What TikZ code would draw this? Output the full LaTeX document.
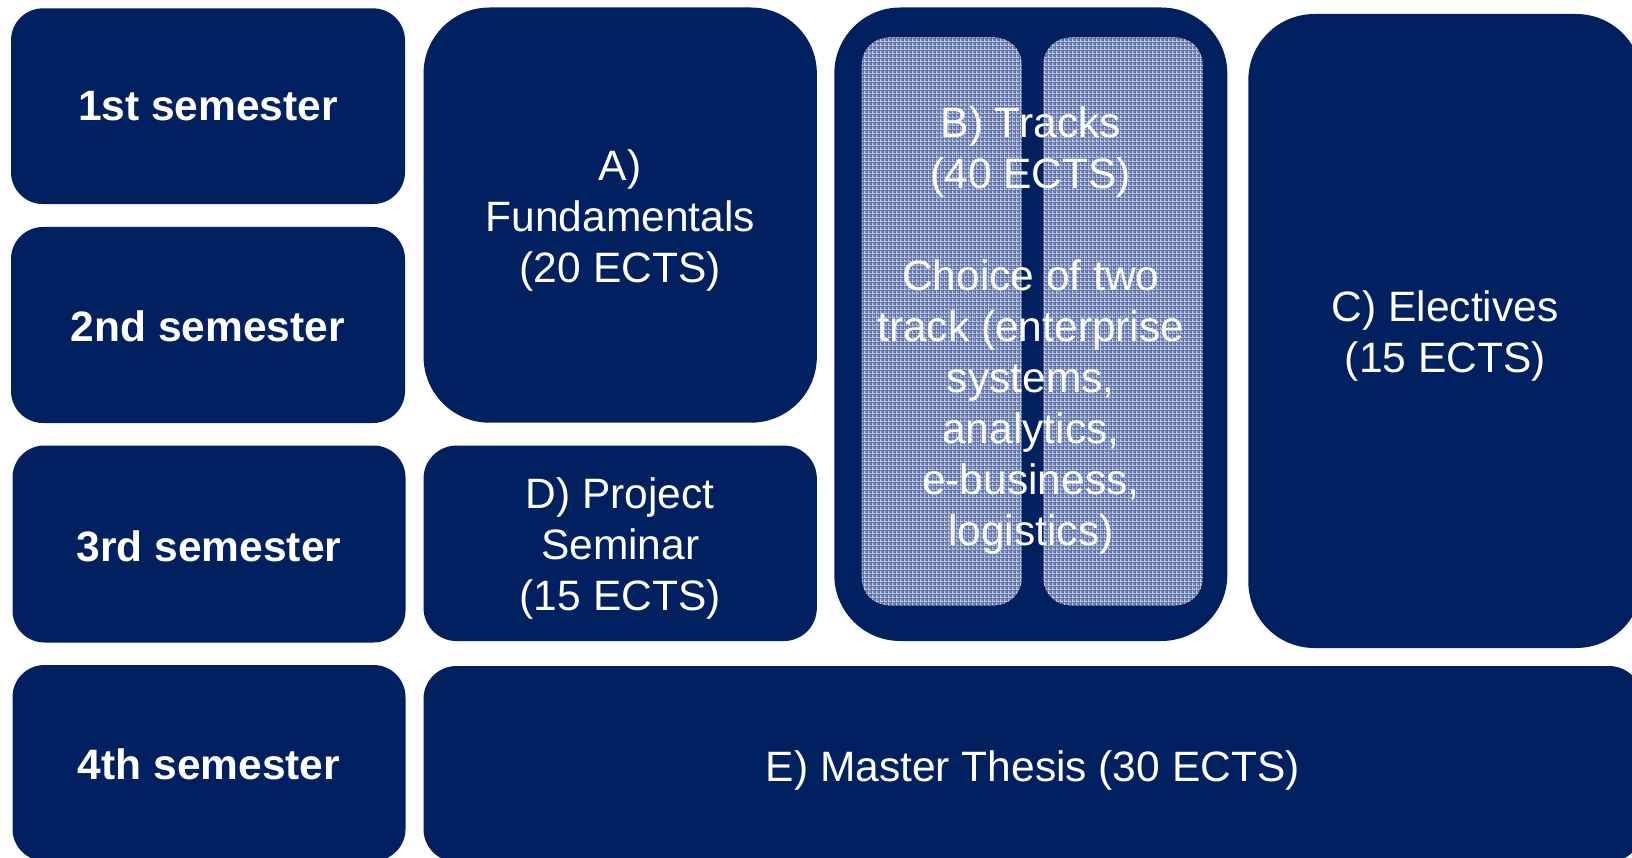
\documentclass[tikz,border=0pt]{standalone}
\usepackage{fontspec}
\setmainfont{Liberation Sans}
\usetikzlibrary{patterns}
\definecolor{navy}{HTML}{002060}
\definecolor{trackbase}{HTML}{6477AB}
\definecolor{trackline}{HTML}{C6CEE3}
\pgfdeclarepatternformonly{trackgrid}{\pgfpointorigin}{\pgfqpoint{4pt}{4pt}}{\pgfqpoint{4pt}{4pt}}{%
  \pgfpathrectangle{\pgfpointorigin}{\pgfqpoint{4pt}{1pt}}%
  \pgfpathrectangle{\pgfpointorigin}{\pgfqpoint{1pt}{4pt}}%
  \pgfpathrectangle{\pgfqpoint{2pt}{2pt}}{\pgfqpoint{1pt}{1pt}}%
  \pgfusepath{fill}}
\tikzset{
  box/.style={fill=navy, draw=none, inner sep=0pt, outer sep=0pt, rectangle},
  trackbox/.style={draw=none, inner sep=0pt, outer sep=0pt, rectangle,
    preaction={fill=trackbase}, pattern=trackgrid, pattern color=trackline},
  txt/.style={text=white, align=center, inner sep=0pt,
    font=\fontsize{42.5}{51}\selectfont},
  semtxt/.style={txt, font=\fontsize{42.5}{51}\selectfont\bfseries}
}
\begin{document}
\begin{tikzpicture}[x=1pt,y=-1pt]
\useasboundingbox (0,0) rectangle (1632,858);
\clip (0,0) rectangle (1632,858);
% semesters
\node[box, minimum width=394pt, minimum height=195.7pt, rounded corners=32pt] (s1) at (208,106.2) {};
\node[box, minimum width=394pt, minimum height=196pt, rounded corners=32pt] (s2) at (208,325) {};
\node[box, minimum width=393pt, minimum height=197pt, rounded corners=32pt] (s3) at (209,544) {};
\node[box, minimum width=393pt, minimum height=196pt, rounded corners=32pt] (s4) at (209,763) {};
\node[semtxt] (s1t) at (s1.center) {1st semester};
\node[semtxt] (s2t) at ([yshift=-1pt]s2.center) {2nd semester};
\node[semtxt] (s3t) at ([yshift=-2pt]s3.center) {3rd semester};
\node[semtxt] (s4t) at ([yshift=-1pt]s4.center) {4th semester};
% A
\node[box, minimum width=393.3pt, minimum height=415.2pt, rounded corners=66pt] (A) at (620.2,215.1) {};
\node[txt] (At) at ([yshift=-5pt]A.center) {A)\\Fundamentals\\(20 ECTS)};
% D
\node[box, minimum width=393.3pt, minimum height=195.5pt, rounded corners=33pt] (D) at (620.2,543.3) {};
\node[txt] (Dt) at ([yshift=-5pt]D.center) {D) Project\\Seminar\\(15 ECTS)};
% Tracks
\node[box, minimum width=393pt, minimum height=633.5pt, rounded corners=66pt] (T) at (1030.8,324.25) {};
\node[trackbox, minimum width=160pt, minimum height=567.8pt, rounded corners=27pt] (TL) at (941.7,321.4) {};
\node[trackbox, minimum width=159.4pt, minimum height=567.8pt, rounded corners=27pt] (TR) at (1123,321.4) {};
\node[txt] (Tt) at ([yshift=-6pt]T.center) {B) Tracks\\(40 ECTS)\\\mbox{}\\Choice of two\\track (enterprise\\systems,\\analytics,\\e-business,\\logistics)};
% C
\node[box, minimum width=393.7pt, minimum height=634pt, rounded corners=66pt] (C) at (1445.2,331) {};
\node[txt] (Ct) at ([yshift=-5pt]C.center) {C) Electives\\(15 ECTS)};
% E
\node[box, minimum width=1218.5pt, minimum height=196pt, rounded corners=33pt] (E) at (1032.75,764) {};
\node[txt] (Et) at ([yshift=-6pt]E.center) {E) Master Thesis (30 ECTS)};
\end{tikzpicture}
\end{document}
